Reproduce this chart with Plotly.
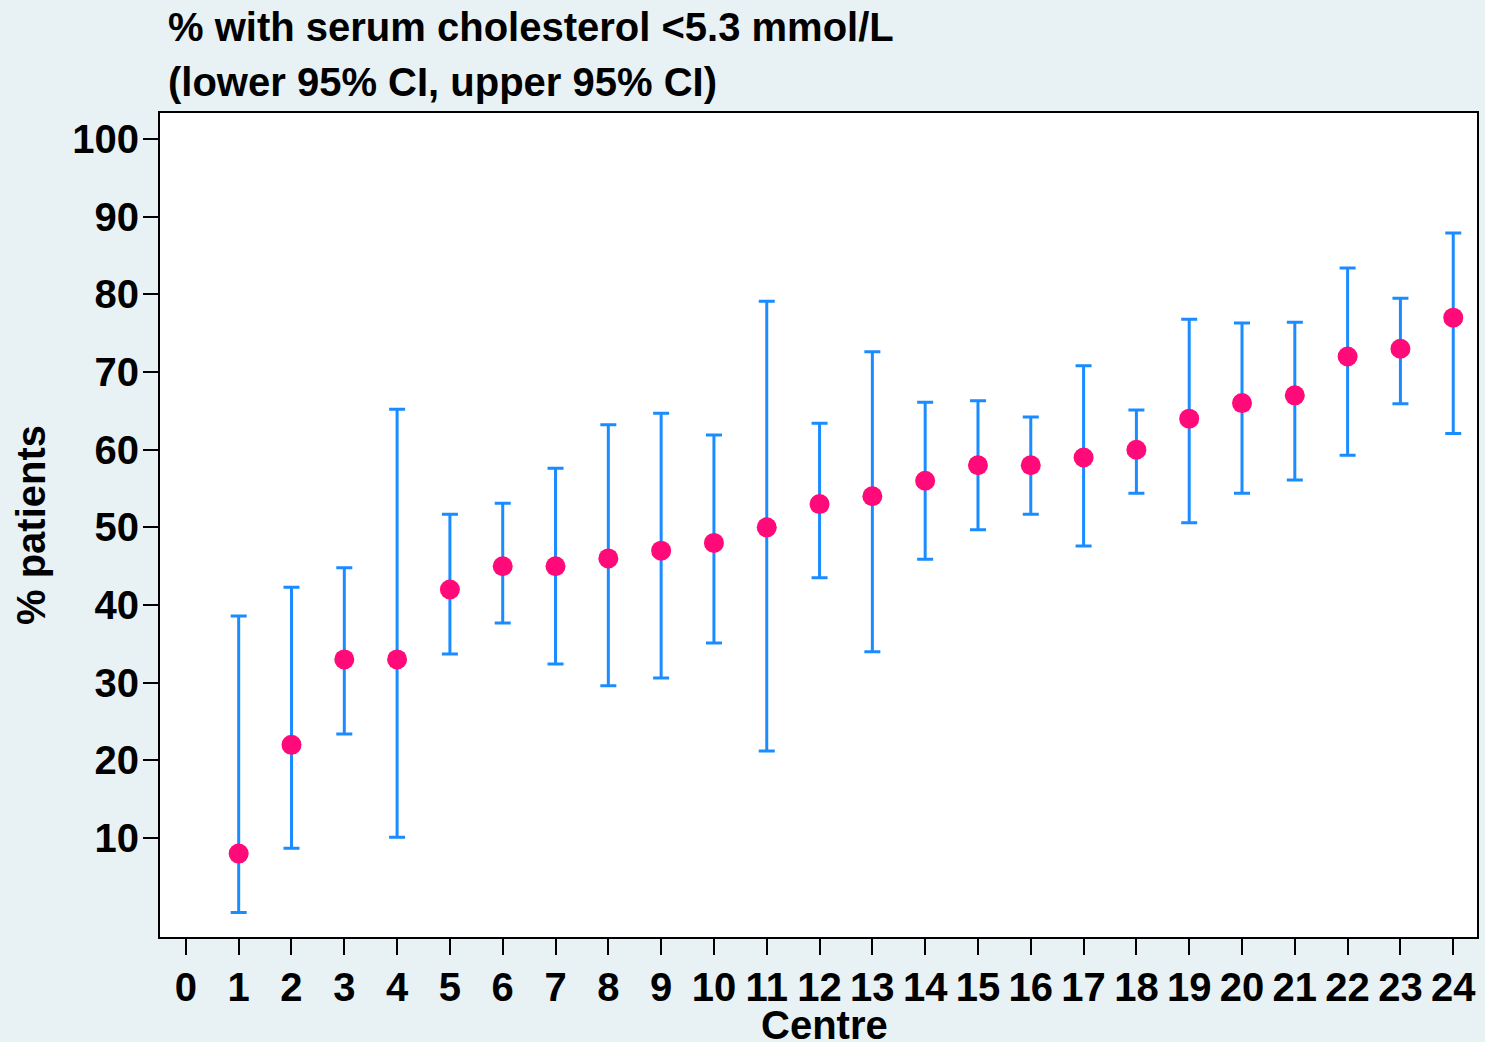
import plotly.graph_objects as go

# Centre number, observed %, and 95% CI bounds
centres = list(range(1, 25))
pct = [8, 22, 33, 33, 42, 45, 45, 46, 47, 48, 50, 53, 54, 56, 58, 58, 59, 60, 64, 66, 67, 72, 73, 77]
lower_ci = [0.4, 8.7, 23.4, 10.1, 33.7, 37.7, 32.4, 29.6, 30.6, 35.1, 21.2, 43.5, 34.0, 45.9,
            49.7, 51.7, 47.6, 54.4, 50.6, 54.4, 56.1, 59.3, 65.9, 62.1]
upper_ci = [38.6, 42.3, 44.8, 65.2, 51.7, 53.1, 57.6, 63.2, 64.7, 61.9, 79.1, 63.4, 72.6, 66.1,
            66.3, 64.2, 70.8, 65.1, 76.8, 76.3, 76.4, 83.4, 79.5, 87.9]
x_ticks = list(range(0, 25))
y_ticks = list(range(10, 101, 10))
title_lines = ["% with serum cholesterol <5.3 mmol/L", "(lower 95% CI, upper 95% CI)"]

err_plus = [u - p for u, p in zip(upper_ci, pct)]
err_minus = [p - l for p, l in zip(pct, lower_ci)]

FONT = "Liberation Sans, Arial, sans-serif"
BG = "#e8f1f3"

fig = go.Figure()
fig.add_trace(go.Scatter(
    x=centres, y=pct, mode="markers",
    marker=dict(color="#ff0a78", size=20),
    error_y=dict(type="data", symmetric=False, array=err_plus, arrayminus=err_minus,
                 color="#1a8cff", thickness=3, width=8),
    showlegend=False,
))

# pixel positions of the plot box, used to place the text in paper units
L, R, T, B = 160, 1477, 113, 937

# two-line heading, left aligned just inside the plot's left edge
ann = []
for text, ypx in zip(title_lines, [27, 82]):
    ann.append(dict(
        text=text, xref="paper", yref="paper",
        x=(166 - L) / (R - L), y=(B - ypx) / (B - T),
        xanchor="left", yanchor="middle", showarrow=False,
        font=dict(family=FONT, size=40, color="black", weight="bold"),
    ))
# x axis title sits close under the tick labels
ann.append(dict(
    text="Centre", xref="paper", yref="paper",
    x=(824 - L) / (R - L), y=(B - 1025) / (B - T),
    xanchor="center", yanchor="middle", showarrow=False,
    font=dict(family=FONT, size=40, color="black", weight="bold"),
))

fig.update_layout(
    width=1485, height=1042,
    paper_bgcolor=BG, plot_bgcolor="white",
    margin=dict(l=L, r=1485 - R, t=T, b=1042 - B),
    font=dict(family=FONT, size=40, color="black", weight="bold"),
    annotations=ann,
)

fig.update_xaxes(
    range=[-0.49, 24.45], tickvals=x_ticks, ticks="outside", ticklen=16, tickwidth=2,
    tickcolor="black", showgrid=False, zeroline=False, automargin=False,
    showline=True, linecolor="black", linewidth=2, mirror=True,
    ticklabelstandoff=-2,
)
fig.update_yaxes(
    range=[-2.74, 103.35], tickvals=y_ticks, ticks="outside", ticklen=15, tickwidth=2,
    tickcolor="black", showgrid=False, zeroline=False, automargin=False,
    showline=True, linecolor="black", linewidth=2, mirror=True,
    ticklabelstandoff=-4,
    title=dict(text="% patients", standoff=14, font=dict(size=40)),
)

fig.write_html(
    "out.html",
    config={"displayModeBar": False},
    post_script="document.body.style.margin='0';document.body.style.background='%s';" % BG,
)
